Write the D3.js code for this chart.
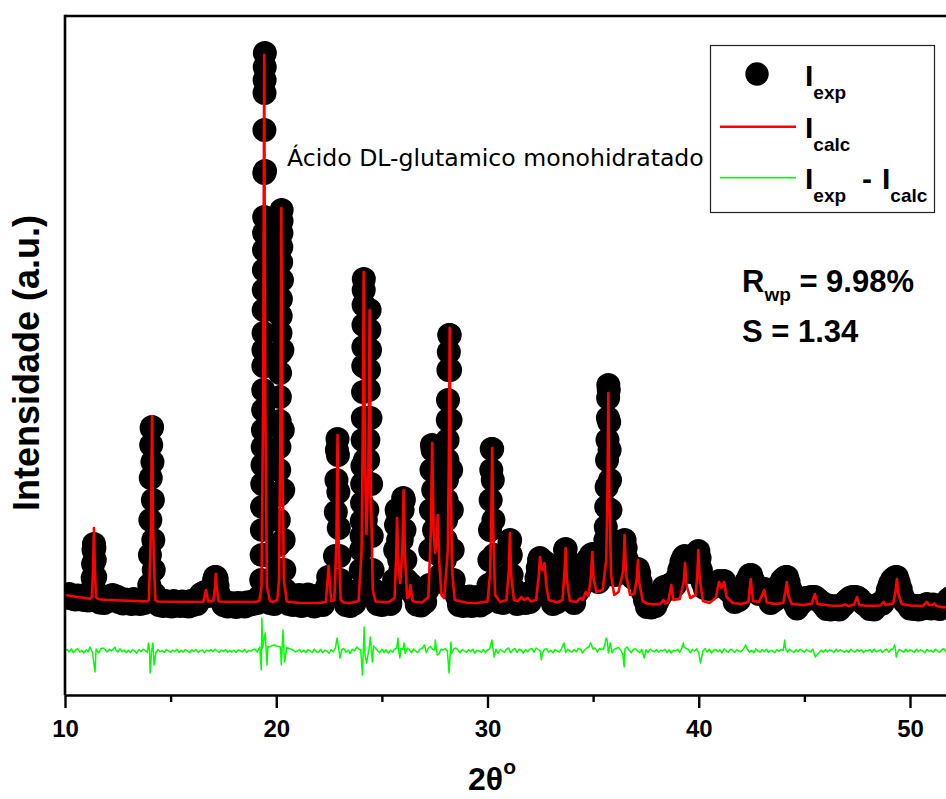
<!DOCTYPE html>
<html><head><meta charset="utf-8">
<script src="https://cdn.jsdelivr.net/npm/d3@7"></script>
<style>body{margin:0;background:#fff}svg{display:block}</style>
</head><body>
<svg id="chart" width="946" height="799"></svg>
<script>
// Rietveld refinement plot: observed points, calculated profile, difference curve
const xTicks = [10, 20, 30, 40, 50];
const xMinor = [15, 25, 35, 45, 55];

// Calculated profile, [2theta, counts]
const calc = [
  [10.0,250],[10.5,232],[11.0,218],[11.2,212],
  [11.27,230],[11.33,520],[11.37,920],[11.41,520],[11.47,225],[11.6,208],
  [12.0,200],[13.0,192],[13.9,186],
  [13.97,200],[14.07,900],[14.12,2040],[14.17,900],[14.27,200],[14.4,185],
  [15.0,182],[16.0,180],[16.55,182],[16.67,300],[16.78,185],
  [17.02,190],[17.10,330],[17.14,460],[17.18,330],[17.28,185],
  [18.0,180],[19.0,180],[19.2,190],
  [19.30,330],[19.38,2200],[19.43,5650],[19.48,2200],[19.56,330],[19.7,190],[19.85,180],[20.05,200],
  [20.13,400],[20.19,1700],[20.24,4120],[20.29,1700],[20.36,400],[20.5,185],
  [21.0,172],[22.0,170],[22.35,180],[22.48,540],[22.6,190],[22.75,200],
  [22.85,800],[22.90,1850],[22.95,800],[23.05,200],[23.2,175],
  [23.5,170],[23.9,190],
  [24.04,700],[24.10,2000],[24.14,3480],[24.20,1600],[24.27,860],
  [24.36,1500],[24.42,3100],[24.48,1300],[24.57,300],[24.7,185],
  [25.3,175],[25.6,220],
  [25.67,600],[25.72,1020],[25.78,560],[25.87,370],
  [25.97,700],[26.03,1300],[26.09,650],[26.2,220],[26.28,230],
  [26.35,350],[26.45,190],[26.6,180],
  [26.9,175],[27.2,230],
  [27.32,900],[27.38,1770],[27.45,900],[27.52,670],
  [27.60,800],[27.65,1050],[27.71,600],[27.82,250],[27.95,220],
  [28.12,700],[28.17,1600],[28.21,2920],[28.25,1600],[28.32,500],[28.45,200],
  [29.0,172],[29.5,170],[30.0,185],
  [30.12,450],[30.18,1000],[30.22,1720],[30.27,900],[30.36,250],[30.6,180],
  [30.9,200],[31.01,500],[31.06,870],[31.12,450],[31.25,200],
  [31.45,190],[31.6,230],[31.72,200],[31.9,220],[32.05,185],[32.3,200],
  [32.43,450],[32.48,630],[32.58,500],
  [32.65,500],[32.70,570],[32.78,350],[32.9,200],
  [33.3,175],[33.55,200],
  [33.65,500],[33.70,720],[33.76,400],[33.9,190],
  [34.2,180],[34.4,220],[34.5,200],[34.65,280],[34.78,240],
  [34.90,450],[34.96,680],[35.02,420],[35.15,280],[35.45,300],
  [35.62,600],[35.68,1300],[35.72,2270],[35.77,1200],[35.85,450],[36.0,250],[36.2,280],
  [36.43,500],[36.49,850],[36.56,450],[36.75,250],[36.95,260],
  [37.07,420],[37.12,600],[37.18,380],[37.35,190],
  [37.6,160],[38.0,155],[38.2,165],
  [38.32,200],[38.42,165],[38.55,180],
  [38.70,350],[38.8,200],[39.1,210],
  [39.29,380],[39.35,570],[39.42,350],[39.6,220],[39.85,250],
  [39.93,450],[39.98,700],[40.05,400],[40.2,190],[40.5,170],[40.8,220],
  [40.96,380],[41.08,320],[41.20,380],[41.32,230],[41.6,170],
  [42.0,160],[42.35,180],[42.46,410],[42.57,190],[42.85,180],
  [43.10,300],[43.22,175],[43.6,160],[44.0,170],
  [44.10,280],[44.17,380],[44.25,240],[44.4,160],[45.0,150],[45.35,165],
  [45.50,260],[45.62,160],[46.2,145],[46.75,140],
  [46.9,155],[47.1,140],[47.35,155],
  [47.49,230],[47.6,150],[48.0,140],[48.6,145],
  [48.75,180],[48.85,150],[49.2,165],
  [49.32,290],[49.38,410],[49.45,260],[49.6,160],[50.0,145],[50.6,140],
  [50.80,180],[50.9,150],[51.05,150],[51.15,165],[51.25,140],[51.6,125],[51.8,130],[52.0,170]
];

// Observed intensities, [2theta, counts]
const observed = [
  [10.0,250],[10.1,225],[10.2,260],[10.3,215],[10.4,240],[10.5,205],[10.6,245],[10.7,210],[10.8,235],[10.9,200],[11.0,230],[11.1,195],[11.2,225],
  [11.27,300],[11.31,420],[11.33,560],[11.35,700],[11.37,760],[11.39,720],[11.41,600],[11.43,430],[11.46,280],
  [11.55,220],[11.65,175],[11.75,215],[11.85,170],[11.95,210],[12.05,190],[12.15,240],[12.25,250],[12.35,200],[12.45,235],[12.55,180],[12.65,210],[12.75,165],[12.85,205],[12.95,170],[13.05,200],[13.15,160],[13.25,210],[13.35,175],[13.45,200],[13.55,160],[13.65,205],[13.75,170],[13.85,215],
  [13.95,230],[13.99,350],[14.02,650],[14.04,1000],[14.06,1420],[14.08,1750],[14.10,1920],[14.12,1930],[14.14,1580],[14.16,1200],[14.18,800],[14.20,500],[14.23,260],
  [14.35,200],[14.45,150],[14.55,185],[14.65,140],[14.75,190],[14.85,150],[14.95,180],[15.05,135],[15.15,190],[15.25,150],[15.35,175],[15.45,140],[15.55,185],[15.65,145],[15.75,180],[15.85,135],[15.95,190],[16.05,150],[16.15,185],[16.25,160],[16.35,230],
  [16.45,260],[16.55,270],[16.62,280],[16.70,270],[16.80,240],[16.9,250],
  [17.0,330],[17.06,400],[17.10,430],[17.14,430],[17.18,410],[17.22,340],[17.3,250],
  [17.4,200],[17.5,150],[17.6,175],[17.7,135],[17.8,170],[17.9,140],[18.0,165],[18.1,130],[18.2,170],[18.3,145],[18.4,165],[18.5,135],[18.6,175],[18.7,150],[18.8,180],[18.9,160],[19.0,195],[19.1,170],[19.2,230],
  [19.29,400],[19.31,650],[19.32,900],[19.33,1130],[19.34,1360],[19.35,1550],[19.36,1730],[19.37,1900],[19.38,2100],[19.385,2300],[19.39,2540],[19.395,2700],[19.40,2870],[19.405,3100],[19.41,3300],
  [19.415,3500],[19.42,3700],[19.425,3870],[19.43,4030],[19.435,4470],[19.44,4900],[19.445,5270],[19.45,5400],[19.455,5530],[19.46,5670],
  [19.47,4490],[19.48,3100],[19.49,2540],[19.50,1580],[19.52,1130],[19.54,650],[19.57,300],[19.62,220],[19.7,170],[19.8,210],[19.9,160],[20.0,240],
  [20.08,300],[20.10,500],[20.11,750],[20.12,1000],[20.13,1250],[20.14,1500],[20.15,1730],[20.16,1990],[20.17,2230],[20.18,2470],[20.19,2670],[20.20,2870],[20.21,3040],[20.22,3210],[20.23,3400],[20.235,3580],[20.24,3730],[20.245,3870],[20.25,3990],[20.255,4100],
  [20.27,3400],[20.29,2700],[20.31,1900],[20.33,1300],[20.35,800],[20.38,500],[20.42,300],
  [20.5,240],[20.6,160],[20.7,230],[20.8,150],[20.9,245],[21.0,175],[21.1,250],[21.2,140],[21.3,220],[21.4,165],[21.5,255],[21.6,150],[21.7,225],[21.8,135],[21.9,240],[22.0,170],[22.1,230],[22.2,150],[22.3,260],
  [22.4,330],[22.46,430],[22.52,400],[22.6,350],[22.7,380],[22.78,640],[22.82,1080],[22.85,1400],[22.87,1700],[22.90,1810],[22.92,1650],[22.94,1280],[22.96,920],[22.99,640],[23.03,400],[23.1,280],
  [23.2,240],[23.3,150],[23.4,230],[23.5,140],[23.6,250],[23.7,165],[23.8,260],[23.9,300],
  [24.00,500],[24.02,700],[24.04,840],[24.05,990],[24.06,1170],[24.07,1360],[24.08,1540],[24.09,1800],[24.10,2020],[24.11,2280],[24.12,2540],[24.125,2730],[24.13,2950],[24.135,3150],[24.14,3300],[24.145,3410],
  [24.17,2540],[24.20,1600],[24.24,1000],[24.28,900],
  [24.31,1100],[24.33,1360],[24.35,1600],[24.36,1800],[24.37,2020],[24.38,2300],[24.39,2500],[24.40,2700],[24.41,2900],[24.42,3100],[24.44,2700],[24.46,2020],[24.49,1360],[24.52,840],[24.56,500],[24.62,300],
  [24.7,250],[24.8,160],[24.9,245],[25.0,150],[25.1,240],[25.2,170],[25.3,255],[25.4,160],[25.5,270],
  [25.58,400],[25.63,700],[25.67,950],[25.70,1100],[25.73,1080],[25.77,800],[25.82,600],[25.88,500],[25.94,800],[25.98,1100],[26.01,1220],[26.04,1200],[26.07,900],[26.11,600],[26.16,400],[26.25,330],[26.35,360],[26.45,280],
  [26.55,240],[26.65,155],[26.75,245],[26.85,145],[26.95,240],[27.05,180],[27.15,300],
  [27.25,350],[27.29,700],[27.32,1100],[27.35,1500],[27.37,1750],[27.40,1700],[27.43,1300],[27.47,900],[27.52,750],[27.58,850],[27.62,1000],[27.65,1050],[27.68,900],[27.72,650],[27.78,450],[27.85,380],[27.92,450],
  [27.98,600],[28.02,800],[28.04,1000],[28.06,1200],[28.08,1400],[28.10,1600],[28.11,1800],[28.12,2000],[28.13,2200],[28.15,2500],[28.17,2680],[28.19,2850],[28.21,2850],[28.23,2500],[28.25,2000],[28.28,1500],[28.31,1100],[28.35,700],[28.40,400],[28.47,280],
  [28.55,240],[28.65,150],[28.75,235],[28.85,140],[28.95,230],[29.05,165],[29.15,235],[29.25,140],[29.35,225],[29.45,160],[29.55,230],[29.65,145],[29.75,240],[29.85,170],[29.95,260],
  [30.05,350],[30.09,600],[30.12,900],[30.15,1200],[30.18,1500],[30.20,1710],[30.22,1710],[30.25,1400],[30.28,1000],[30.32,650],[30.37,400],[30.45,280],[30.55,180],[30.65,240],[30.75,170],[30.85,300],
  [30.95,450],[31.00,650],[31.04,780],[31.07,800],[31.10,650],[31.14,450],[31.2,320],
  [31.3,260],[31.4,160],[31.5,255],[31.6,190],[31.7,250],[31.8,170],[31.9,265],[32.0,180],[32.1,260],[32.2,300],
  [32.32,420],[32.38,520],[32.44,600],[32.48,620],[32.53,560],[32.60,520],[32.65,570],[32.70,580],[32.75,480],[32.82,350],[32.9,280],
  [33.0,250],[33.1,160],[33.2,250],[33.3,180],[33.4,280],[33.5,330],
  [33.58,450],[33.63,600],[33.67,700],[33.70,710],[33.74,600],[33.79,420],[33.86,300],
  [33.95,250],[34.1,170],[34.25,280],[34.4,330],
  [34.5,420],[34.58,500],[34.66,560],[34.74,600],[34.82,620],[34.90,650],[34.96,660],[35.02,550],[35.08,450],[35.15,400],[35.25,380],[35.35,420],[35.45,500],
  [35.55,600],[35.58,800],[35.60,930],[35.62,1130],[35.64,1330],[35.66,1600],[35.68,1800],[35.70,2020],[35.71,2220],[35.72,2350],[35.74,2300],[35.76,1980],[35.78,1700],[35.80,1400],[35.82,1100],[35.85,800],[35.88,600],[35.95,500],[36.05,450],[36.15,480],
  [36.25,560],[36.32,650],[36.38,720],[36.44,780],[36.49,800],[36.54,720],[36.6,600],[36.68,500],[36.78,450],[36.9,420],
  [37.0,460],[37.06,500],[37.12,510],[37.18,470],[37.25,380],[37.35,280],
  [37.45,200],[37.55,130],[37.65,190],[37.75,125],[37.85,185],[37.95,140],[38.05,190],[38.15,230],
  [38.25,280],[38.35,330],[38.45,300],[38.55,320],[38.62,350],[38.70,360],[38.78,330],[38.88,350],
  [38.98,420],[39.08,500],[39.18,580],[39.26,620],[39.33,640],[39.40,600],[39.50,520],[39.6,480],[39.7,520],[39.78,580],[39.86,640],[39.92,670],[39.98,690],[40.04,620],[40.1,500],[40.18,380],
  [40.28,320],[40.38,330],[40.48,310],[40.58,340],[40.68,330],[40.78,340],
  [40.88,360],[40.96,390],[41.04,380],[41.12,370],[41.20,390],[41.28,350],[41.38,300],[41.5,280],
  [41.6,260],[41.7,180],[41.8,250],[41.9,200],[42.0,280],
  [42.15,320],[42.25,380],[42.35,420],[42.42,450],[42.48,450],[42.56,400],[42.65,330],[42.75,280],
  [42.85,260],[42.95,290],[43.05,310],[43.12,310],[43.2,270],[43.3,230],
  [43.4,170],[43.5,240],[43.6,200],
  [43.75,300],[43.85,360],[43.95,400],[44.05,420],[44.12,430],[44.18,430],[44.25,380],[44.35,300],[44.45,230],
  [44.55,160],[44.65,115],[44.75,150],[44.85,170],
  [44.95,200],[45.05,220],[45.15,210],[45.3,230],[45.42,230],[45.5,230],[45.6,210],[45.72,190],[45.85,170],
  [45.95,140],[46.05,110],[46.15,145],[46.25,105],[46.35,135],[46.45,110],[46.55,140],[46.65,105],[46.75,135],[46.85,150],
  [46.95,180],[47.05,200],[47.15,220],[47.25,230],[47.35,225],[47.45,230],[47.55,220],[47.65,200],[47.78,170],[47.9,150],
  [48.0,140],[48.1,110],[48.2,140],[48.3,105],[48.4,135],[48.5,150],[48.6,170],[48.7,165],
  [48.85,220],[48.95,300],[49.05,360],[49.15,400],[49.25,420],[49.32,430],[49.38,430],[49.46,380],[49.56,310],[49.66,230],[49.76,180],
  [49.9,150],[50.0,115],[50.1,145],[50.2,110],[50.3,140],[50.4,105],[50.5,140],[50.6,115],[50.7,150],[50.8,160],[50.9,150],[51.0,115],[51.1,155],[51.2,120],[51.3,140],[51.4,110],[51.5,140],[51.6,150],[51.7,170],[51.8,200],[51.9,220],[52.0,230]
];

// Difference (obs - calc): background residuals on a 0.1 deg grid, plus the residuals at the reflections
const diffStart = 10, diffStep = 0.1;
const diffNoise = [
  0,15,-10,22,-18,8,25,-12,5,-20,
  12,-8,18,-15,0,10,-20,22,30,15,
  -10,18,0,25,15,-12,22,-6,10,-18,
  8,-15,12,0,-22,15,-8,18,4,-12,
  10,0,18,-18,12,-8,4,-15,15,0,
  -12,8,-4,18,-15,6,-10,15,0,-18,
  12,-6,16,-14,4,10,-16,8,-4,14,
  -8,18,0,-15,10,-6,15,-12,4,-10,
  8,-14,12,0,-8,16,-12,6,-4,15,
  18,-10,40,20,30,50,45,40,55,60,
  50,45,40,60,30,35,25,18,10,-10,
  0,15,-12,8,-18,12,0,-15,18,-8,
  -12,15,-18,8,0,-22,12,-8,30,18,
  -18,15,25,-12,8,-25,18,0,40,22,
  10,30,-40,25,35,18,50,30,0,-18,
  18,-15,12,-22,8,-12,18,30,0,25,
  18,-25,30,15,-18,22,0,-15,18,25,
  40,-18,30,45,18,10,35,-30,18,10,
  25,0,40,-25,18,30,10,-18,15,0,
  -15,12,-8,18,-22,8,0,-12,15,-18,
  10,22,-8,30,18,-25,15,0,-12,18,
  30,-18,12,25,-15,18,8,-22,15,-8,
  18,25,-12,30,15,0,-25,18,22,-12,
  8,-18,15,0,-12,22,40,-15,18,0,
  -12,15,-8,25,18,-22,12,30,40,-18,
  18,30,-12,25,15,22,50,40,30,-18,
  18,25,35,10,-30,18,40,10,-18,15,
  22,0,-18,15,-40,12,-15,18,0,-8,
  15,-12,8,0,18,-15,12,-22,8,0,
  18,-15,30,40,25,18,-18,15,0,22,
  -18,12,0,25,-12,18,-22,8,15,-8,
  12,-18,22,0,-12,18,8,-15,12,0,
  -8,15,30,18,-12,8,-18,22,0,-12,
  15,-8,18,-15,8,0,-18,12,-4,15,
  8,30,-12,18,0,-15,12,-8,18,0,
  -12,15,0,-8,18,-30,-40,-18,8,-12,
  15,-8,12,0,-15,18,-8,12,0,-12,
  8,-15,18,0,-12,15,-4,12,-18,8,
  0,15,-12,18,-8,0,12,-15,8,18,
  -12,15,22,30,-18,15,0,-12,18,-8,
  12,0,-15,18,-8,12,0,-18,15,-4,
  8,-12,18,0,-15,12,22,-8,0,15,
  10
];
const diffSpikes = [
  [11.18,40],[11.42,-210],[11.47,20],[12.37,40],
  [13.95,80],[14.03,-220],[14.16,80],[14.22,-140],
  [19.22,40],[19.29,-190],[19.32,330],[19.36,30],[19.42,110],[19.48,180],[19.56,-140],[19.92,60],
  [20.24,-140],[20.32,210],[20.39,-110],
  [22.88,130],[23.02,-70],[23.82,40],
  [24.08,-240],[24.16,240],[24.28,-120],[24.45,140],[24.55,-110],
  [25.76,130],[25.85,-70],[26.05,80],
  [27.02,60],[27.53,110],[27.62,-40],
  [28.18,-220],[28.27,90],
  [30.21,110],[30.31,-60],
  [32.55,-90],[33.62,80],[34.88,80],
  [35.62,130],[35.67,100],[35.72,-20],[35.81,80],
  [36.47,-160],[37.42,-70],
  [39.27,80],[40.08,-120],
  [42.22,60],[44.07,110],[45.52,-60],
  [49.27,60],[49.35,-60]
];
const diffOffset = -310;

const sampleName = "Ácido DL-glutamico monohidratado";
const rwpValue = "9.98%";
const gofValue = "1.34";

const W = 946, H = 799;
const boldFont = "'Liberation Sans', Arial, Helvetica, sans-serif";
const svg = d3.select("#chart");
svg.append("rect").attr("width", W).attr("height", H).attr("fill", "#fff");

const x = d3.scaleLinear().domain([10, 55]).range([65, 65 + 45 * 21.125]);
const y = d3.scaleLinear().domain([-750, 6040]).range([695, 16]);

svg.append("defs").append("clipPath").attr("id", "plotClip")
  .append("rect").attr("x", x(10)).attr("y", y(6040)).attr("width", x(55) - x(10)).attr("height", y(-750) - y(6040));

const plot = svg.append("g").attr("clip-path", "url(#plotClip)");

// observed points
plot.append("g").selectAll("circle").data(observed).join("circle")
  .attr("cx", d => x(d[0])).attr("cy", d => y(d[1])).attr("r", 12).attr("fill", "#000");

const line = d3.line().x(d => x(d[0])).y(d => y(d[1]));

// calculated profile
plot.append("path").datum(calc).attr("d", line)
  .attr("fill", "none").attr("stroke", "#ff0000").attr("stroke-width", 2.6).attr("stroke-linejoin", "round");

// difference curve
const diffGrid = diffNoise.map((v, i) => [diffStart + i * diffStep, v])
  .filter(p => !diffSpikes.some(s => Math.abs(s[0] - p[0]) < 0.025));
const diffData = diffGrid.concat(diffSpikes).sort((a, b) => a[0] - b[0]).map(d => [d[0], d[1] + diffOffset]);
plot.append("path").datum(diffData).attr("d", line)
  .attr("fill", "none").attr("stroke", "#00ff00").attr("stroke-width", 1.5).attr("stroke-linejoin", "round");

// axes
const gx = svg.append("g").attr("transform", `translate(0,${y(-750)})`);
gx.call(d3.axisBottom(x).tickValues(xTicks).tickSize(13).tickSizeOuter(0).tickFormat(d3.format("d")));
gx.select(".domain").attr("stroke", "#000").attr("stroke-width", 2.6);
gx.selectAll(".tick line").attr("stroke", "#000").attr("stroke-width", 2.4);
gx.selectAll(".tick text").attr("fill", "#000").attr("font-family", boldFont).attr("font-weight", "bold")
  .attr("font-size", 24).attr("y", 42).attr("dy", null);

const gxm = svg.append("g").attr("transform", `translate(0,${y(-750)})`);
gxm.call(d3.axisBottom(x).tickValues(xMinor).tickSize(7).tickSizeOuter(0).tickFormat(""));
gxm.select(".domain").remove();
gxm.selectAll(".tick line").attr("stroke", "#000").attr("stroke-width", 2.4);

svg.append("line").attr("x1", x(10)).attr("x2", x(10)).attr("y1", y(6040) - 1.2).attr("y2", y(-750))
  .attr("stroke", "#000").attr("stroke-width", 2.6);
svg.append("line").attr("x1", x(10)).attr("x2", x(55)).attr("y1", y(6040)).attr("y2", y(6040))
  .attr("stroke", "#000").attr("stroke-width", 2.6);

// axis titles
const xt = svg.append("text").attr("x", 492).attr("y", 790).attr("text-anchor", "middle")
  .attr("font-family", boldFont).attr("font-weight", "bold").attr("font-size", 32).attr("fill", "#000");
xt.append("tspan").text("2θ");
xt.append("tspan").attr("font-size", 21).attr("dy", -16).text("o");

svg.append("text").attr("transform", "translate(39,363) rotate(-90)").attr("text-anchor", "middle")
  .attr("font-family", boldFont).attr("font-weight", "bold").attr("font-size", 36).attr("fill", "#000")
  .text("Intensidade (a.u.)");

// sample name
svg.append("text").attr("x", 287).attr("y", 166)
  .attr("font-family", "'DejaVu Sans', Verdana, sans-serif").attr("font-size", 23.6).attr("fill", "#000")
  .text(sampleName);

// agreement factors
const rt = svg.append("text").attr("x", 742).attr("y", 292)
  .attr("font-family", boldFont).attr("font-weight", "bold").attr("font-size", 31).attr("fill", "#000");
rt.append("tspan").text("R");
rt.append("tspan").attr("font-size", 19).attr("dy", 9).text("wp");
rt.append("tspan").attr("dy", -9).text(" = " + rwpValue);
svg.append("text").attr("x", 742).attr("y", 342)
  .attr("font-family", boldFont).attr("font-weight", "bold").attr("font-size", 31).attr("fill", "#000")
  .text("S = " + gofValue);

// legend
const lg = svg.append("g");
lg.append("rect").attr("x", 710.5).attr("y", 45.5).attr("width", 224).attr("height", 167)
  .attr("fill", "#fff").attr("stroke", "#222").attr("stroke-width", 1.2);
lg.append("circle").attr("cx", 757).attr("cy", 74).attr("r", 11.7).attr("fill", "#000");
lg.append("line").attr("x1", 720).attr("x2", 796).attr("y1", 126.7).attr("y2", 126.7)
  .attr("stroke", "#ff0000").attr("stroke-width", 2.4);
lg.append("line").attr("x1", 720).attr("x2", 796).attr("y1", 177.7).attr("y2", 177.7)
  .attr("stroke", "#00ff00").attr("stroke-width", 1.4);

function legendLabel(xp, yBase, sub) {
  const t = lg.append("text").attr("x", xp).attr("y", yBase)
    .attr("font-family", boldFont).attr("font-weight", "bold").attr("font-size", 30).attr("fill", "#000");
  t.append("tspan").text("I");
  t.append("tspan").attr("font-size", 19).attr("dy", 13).text(sub);
  return t;
}
legendLabel(805, 85.5, "exp");
legendLabel(805, 137.5, "calc");
legendLabel(805, 189, "exp");
lg.append("text").attr("x", 862).attr("y", 189)
  .attr("font-family", boldFont).attr("font-weight", "bold").attr("font-size", 30).attr("fill", "#000").text("-");
legendLabel(882, 189, "calc");
</script>
</body></html>
